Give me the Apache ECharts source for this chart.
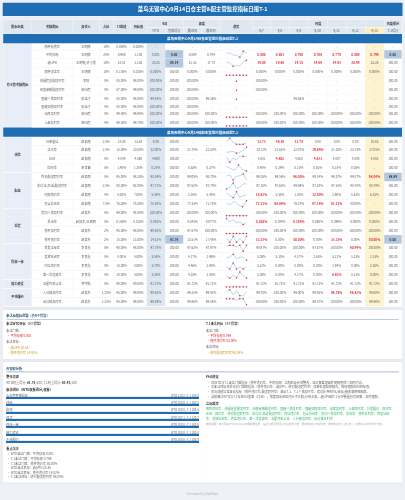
<!DOCTYPE html>
<html lang="zh"><head><meta charset="utf-8">
<style>html,body{margin:0;padding:0;background:#eff1f6}#c{width:405px;height:500px}#c canvas{filter:blur(.3px)}</style>
<script src="https://cdn.jsdelivr.net/npm/echarts@6/dist/echarts.min.js"></script>
</head><body><div id="c"></div>
<script>
// ---------- data ----------
const pageTitle='菜鸟无锡中心9月14日仓主管&配主管监控指标日报T-1';
const sectionTitles=['菜鸟无锡中心9月14日仓主管监控指标日报T-1','菜鸟无锡中心9月14日配主管监控指标日报T-1'];
const dayLabels=['9/7','9/8','9/9','9/10','9/11','9/12','9/13'];
const metricNames=['南杯收违率','平均存视','选UPH','南杯送达率','海量超支配送时率','闲鱼审核配送时率','固能人揽及时率','固能如揽及时率','出库及时率','上架及时率',
 '日单量达','达访率','DSR','回访率','昨日配送超时率','彩约达(承诺)配送时率','内部违约率','包含投诉率','超向人揽及时率','投诉率','揽件及时率','揽件违约率',
 '首发达标率','发放延迟率','内达违约率','第一次送波率','五星司机认证','入分抹及时率','出分抹及时率'];
const owners=['王明辉','王明辉','王明辉/许小美','王明辉','李琦','宋国超','张佳才','张佳才','宋国超','宋国超',
 '赵振南','赵振南','赵振南','宋世雷','赵振南','赵振南','赵振南','赵振南','赵振东','赵振东/王晓明','赵振东','赵振东',
 '李良鑫','李良鑫','李良鑫','李良鑫','齐宇航','赵振东','赵振东'];
const weights=['10%','25%','10%','10%','5%','5%','5%','5%','5%','5%','2.5%','2.5%','5%','5%','5%','2.5%','4%','7.5%','5%','5%','2%','2%','5%','5%','5%','5%','5%','1.25%','1.25%'];
const gates=['0.050%','0.980','18.51','0.150%','85.00%','87.00%','85.00%','85.00%','99.80%','99.50%','18.00','15.00%','4.840','1.40%','95.00%','88.00%','8.00%','76.30%','99.00%','0.350%','95.00%','15.00%','90.00%','8.00%','15.00%','10.00%','90.00%','95.00%','95.00%'];
const targets=['0.020%','1.150','21.30','0.010%','98.00%','99.00%','98.00%','98.00%','99.90%','99.70%','13.30','20.00%','4.860','1.35%','98.20%','92.00%','7.00%','78.30%','98.50%','0.150%','98.00%','13.00%','98.00%','5.00%','8.00%','5.00%','90.00%','99.00%','99.00%'];
const mtdValues=['-','0.801','20.35','0.000%','100.00%','100.00%','99.58%','100.00%','100.00%','100.00%','9.80','22.00%','4.900','0.28%','98.59%','97.71%','5.39%','78.50%','100.00%','0.053%','99.92%','14.82%','97.78%','3.58%','3.70%','3.38%','91.72%','99.92%','99.89%'];
const mtdScores=['-','0.00','86.14','100.00','100.00','100.00','100.00','100.00','100.00','100.00','100.00','100.00','100.00','100.00','100.00','100.00','100.00','100.00','100.00','100.00','100.00','83.78','100.00','100.00','100.00','100.00','100.00','100.00','100.00'];
const weekRecent=['-','0.804','21.53','0.000%','100.00%','100.00%','100.00%','100.00%','100.00%','100.00%','-','21.78%','-','0.63%','99.05%','97.62%','5.35%','77.33%','100.00%','0.043%','97.67%','13.51%','97.62%','4.17%','4.46%','4.23%','91.72%','99.25%','99.86%'];
const weekPrior=['-','0.794','17.78','0.000%','-','-','99.36%','-','100.00%','100.00%','-','22.50%','-','0.27%','98.70%','97.70%','5.45%','71.78%','100.00%','0.077%','100.00%','17.45%','97.97%','2.96%','2.95%','2.50%','91.72%','99.42%','99.88%'];
const dailyValues=[
 ['-','-','-','-','-','-','-'],
 ['0.800','0.801','0.790','0.788','0.779','0.808','0.799'],
 ['19.05','19.88','14.15','14.86','14.93','20.94','23.26'],
 ['0.000%','0.000%','0.000%','0.000%','0.000%','0.000%','0.000%'],
 ['100.00%','-','-','-','-','-','-'],
 ['100.00%','-','-','-','-','-','-'],
 ['-','-','99.36%','-','-','-','-'],
 ['-','-','-','-','-','-','-'],
 ['100.00%','100.00%','100.00%','100.00%','100.00%','100.00%','100.00%'],
 ['100.00%','100.00%','100.00%','100.00%','100.00%','100.00%','100.00%'],
 ['13.73','40.16','13.75','0.00','0.00','0.00','10.63'],
 ['20.72%','21.62%','22.07%','19.84%','21.02%','23.73%','27.05%'],
 ['4.881','4.802','4.863','4.833','4.887','4.888','4.882'],
 ['0.48%','0.29%','0.10%','0.62%','0.18%','0.03%','-'],
 ['99.26%','99.56%','98.00%','99.14%','99.37%','99.87%','98.04%'],
 ['97.10%','97.63%','99.09%','97.28%','97.61%','98.78%','98.79%'],
 ['10.83%','5.53%','1.85%','12.50%','2.90%','5.61%','6.82%'],
 ['72.31%','68.89%','79.24%','67.18%','63.11%','80.00%','-'],
 ['100.00%','100.00%','100.00%','100.00%','100.00%','100.00%','100.00%'],
 ['0.208%','0.104%','0.164%','0.060%','0.090%','0.000%','0.060%'],
 ['100.00%','100.00%','100.00%','100.00%','100.00%','100.00%','100.00%'],
 ['33.33%','0.00%','50.00%','0.00%','33.33%','0.00%','50.00%'],
 ['98.97%','100.00%','100.00%','97.37%','100.00%','90.64%','100.00%'],
 ['3.03%','3.13%','4.17%','2.63%','3.12%','3.23%','2.13%'],
 ['3.12%','0.00%','8.00%','0.00%','2.94%','0.00%','2.38%'],
 ['3.03%','0.00%','4.17%','0.00%','8.82%','3.21%','0.00%'],
 ['91.72%','91.72%','91.72%','91.72%','91.72%','91.72%','91.72%'],
 ['99.70%','100.00%','99.00%','99.85%','98.78%','98.82%','99.60%'],
 ['100.00%','100.00%','100.00%','99.87%','100.00%','100.00%','99.46%']];
const missedDays=[[],[0,1,2,3,4,5,6],[0,1,2,3,4,5],[],[],[],[],[],[],[],[0,1,2],[3],[1,3],[],[2,6],[],[0,3],[0,1,3,4],[],[0,2],[],[0,2,4,6],[5],[],[],[4],[],[4,5],[]];
const dayScores=['-','0.00','100.00','100.00','100.00','100.00','100.00','100.00','100.00','100.00','100.00','100.00','100.00','100.00','88.89','100.00','100.00','100.00','100.00','100.00','100.00','0.00','100.00','100.00','100.00','100.00','100.00','100.00','100.00'];
const categoryGroups=[['仓主管考核指标',0,10],['体验',10,14],['配送',14,18],['退货',18,22],['揽收一审',22,26],['能力建设',26,27],['干线履约',27,29]];
const blockNames=['仓主管考核指标','体验','配送','退货','揽收一审','能力建设','干线履约'];
const blockWTD=[110.2,100.0,100.0,107.1,100.0,100.0,100.0];
const blockT1=[150.0,100.0,100.5,120.2,100.0,100.0,100.0];
const focusItems=['WTD未达门槛：平均存视 0.801','T-1未达门槛：平均存视 0.799','T-1未达门槛：揽件违约率 50.00%','WTD未达目标：选UPH 20.35','WTD未达目标：揽件违约率 14.82%','T-1未达目标：绝对配送超时率 98.04%'];
const actionItems=['XXWTD与T-1未达门槛指标（揽件违约率、平均存视）立即启动专项整改，当日复盘根因并明确责任人和时间点。',
 '对未达目标项优化日门槛的指标（揽件违约率、选UPH、绝对配送超时率）加密日度监控频次，按周跟踪回归目标值。',
 '关注成绩异常波动指标（揽件违约率/配送超时率）波动T-1、T-1人揽及时率，建议补齐WMS/波动/接收和明细图表。',
 '当前窗口WTD与T-1存在0.8差距（口径），揽度高反弹区间分子之和/分母之和，选UPH和T-1分块慢量也有回落，及时跟踪。'];
const passLines=['南内同日率、海量定支配送时率、闲鱼审核配送时率、固能人揽及时率、固能如揽及时率、出库及时率、上架及时率、方差履约、回访率、',
 'DSR、回访率、绝对配送超时率、彩约达-高定配送时率、内达违约率、包含投诉率、超向人揽及时率、投诉率、揽件及时率、首发达标',
 '率、发放延迟率、内达违约率、第一次送波率、五星司机认证、入分抹及时率、出分抹及时率'];
const noteText='数据说明：本分析基于2026.09.14日前期数生成，指标分析及预估以学业报表为准（周日数对比7日的1天，周日数对比T-1比1天），如异值以WTD累计为准。';
const footerText='Generated by DataMate';

// ---------- layout ----------
const FONT='"Noto Sans CJK SC","Liberation Sans",sans-serif';
const BLUE='#1f6db3',RED='#e3232d',GOLD='#c9981f',GREEN='#35b56f',TXT='#666',DARK='#333';
const colX=[3.3,31.7,72.7,99.3,113.3,130,146.7,165,183.3,201.7,220.3,252.3,270.7,289.3,308.3,327.3,346,365,384,401.7];
const sec1Edges=[43.3,50,58.7,67.7,76.7,85.7,94.7,103.7,109.7,118.7,127.3];
const sec2Top=136.9,sec2Row=8.91;
const rowTop=i=>i<10?sec1Edges[i]:sec2Top+(i-10)*sec2Row;
const rowBot=i=>i<10?sec1Edges[i+1]:sec2Top+(i-9)*sec2Row;
const g=[];
const R=(x,y,w,h,fill,extra)=>g.push({type:'rect',silent:true,z:1,shape:{x,y,width:w,height:h,r:(extra&&extra.r)||0},style:Object.assign({fill},extra&&extra.style)});
const T=(x,y,text,o={})=>g.push({type:'text',silent:true,z:5,x,y,style:{text,fill:o.c||TXT,font:(o.b?'bold ':'')+(o.s||3.1)+'px '+FONT,textAlign:o.a||'center',textVerticalAlign:'middle'}});

// panels
R(2.7,2.7,399.8,13.3,BLUE);
T(202.6,9.4,pageTitle,{c:'#fff',b:1,s:5.4});
const shadow={shadowBlur:3,shadowColor:'rgba(60,80,110,.12)'};
R(2.7,19.5,399.8,287.5,'#fff',{r:1,style:shadow});
R(2.7,310,399.8,49,'#fff',{r:1,style:shadow});
R(2.7,362,399.8,120.5,'#fff',{r:1,style:shadow});

// column tints
const c=j=>colX[j],cw=j=>colX[j+1]-colX[j];
R(c(0),20,cw(0),107.3,'#e8eef7');R(c(0),136.9,cw(0),169.4,'#e8eef7');
R(c(6),43.3,cw(6),84,'#dce6f1');R(c(6),136.9,cw(6),169.4,'#dce6f1');
R(c(17),43.3,cw(17),84,'#fdf3cf');R(c(17),136.9,cw(17),169.4,'#fdf3cf');

// header
R(c(0),20,colX[19]-c(0),13.5,'#dfe7f1');
const H1=27.3,H0=20,H2=33.5,hc1=(H0+H1)/2,hc2=(H1+H2)/2,hcm=(H0+H2)/2;
['指标分类','考核指标','责任人','占比','门槛值','目标值'].forEach((t,j)=>T((c(j)+c(j+1))/2,hcm,t,{b:1,c:DARK}));
T((c(6)+c(8))/2,hc1,'9月',{b:1,c:DARK});
T((c(8)+c(10))/2,hc1,'周度',{b:1,c:DARK});
T((c(10)+c(11))/2,hcm,'趋势',{b:1,c:DARK});
T((c(11)+c(18))/2,hc1,'日度',{b:1,c:DARK});
T((c(18)+c(19))/2,hc1,'日度得分',{b:1,c:DARK});
['MTD','完成得分','最近周','最近周'].forEach((t,k)=>T((c(6+k)+c(7+k))/2,hc2,t));
R(c(17),H1,cw(17),H2-H1,'#fdeebb');
dayLabels.forEach((t,k)=>T((c(11+k)+c(12+k))/2,hc2,t));
T((c(18)+c(19))/2,hc2,'T-1得分');
// header rules
[[c(6),c(10),H1],[c(11),c(19),H1]].forEach(([a,b,y])=>R(a,y,b-a,.35,'#fff'));
for(let j=1;j<19;j++)R(c(j),H0,.35,H2-H0,'#fff');

// section bars
[[34,43.2,0],[127.6,136.8,1]].forEach(([a,b,k])=>{
  R(3.2,a,398.8,b-a,BLUE);
  T(202.6,(a+b)/2,sectionTitles[k],{c:'#fff',b:1,s:3.5});
});

// rows
const sparkGrids=[],sparkX=[],sparkY=[],sparkS=[];
metricNames.forEach((name,i)=>{
  const a=rowTop(i),b=rowBot(i),m=(a+b)/2;
  R(c(1),b-.2,colX[19]-c(1),.35,'#edf0f4');
  if(i>=10&&i<29)R(c(0),b-.2,cw(0),.35,'#f4f7fb');
  T((c(1)+c(2))/2,m,name);T((c(2)+c(3))/2,m,owners[i]);
  T((c(3)+c(4))/2,m,weights[i]);T((c(4)+c(5))/2,m,gates[i]);T((c(5)+c(6))/2,m,targets[i]);
  T((c(6)+c(7))/2,m,mtdValues[i]);
  const hi=mtdScores[i]!=='100.00'&&mtdScores[i]!=='-';
  if(hi)R(c(7),a+.2,cw(7),b-a-.4,'#b3c7e1');
  T((c(7)+c(8))/2,m,mtdScores[i],{b:hi,c:hi?DARK:TXT});
  T((c(8)+c(9))/2,m,weekRecent[i]);T((c(9)+c(10))/2,m,weekPrior[i]);
  dailyValues[i].forEach((v,k)=>{
    const miss=missedDays[i].includes(k);
    T((c(11+k)+c(12+k))/2,m,v,{b:miss,c:miss?RED:TXT});
  });
  const hiD=dayScores[i]!=='100.00'&&dayScores[i]!=='-';
  if(hiD)R(c(18),a+.2,cw(18),b-a-.4,'#b3c7e1');
  T((c(18)+c(19))/2,m,dayScores[i],{b:hiD,c:hiD?DARK:TXT});
  // trend
  const vals=dailyValues[i].map(parseFloat).filter(v=>!isNaN(v));
  if(!vals.length){T((c(10)+c(11))/2,m,'-');return;}
  const mn=Math.min(...vals),mx=Math.max(...vals),flat=mn===mx,one=vals.length===1;
  const idx=sparkGrids.length;
  sparkGrids.push({left:226.5,width:20,top:m-3,height:6,containLabel:false});
  sparkX.push({type:'category',gridIndex:idx,show:false,boundaryGap:one,data:vals.map((_,k)=>k)});
  sparkY.push({type:'value',gridIndex:idx,show:false,min:one?mn-1:mn,max:one?mn+1:(flat?mn+1:mx)});
  sparkS.push({type:'line',xAxisIndex:idx,yAxisIndex:idx,silent:true,z:6,animation:false,
    lineStyle:{color:'#9cc4e8',width:.7},symbolSize:1.5,showSymbol:true,itemStyle:{color:RED},
    data:vals.map(v=>({value:v,symbol:(v===mn||v===mx)?'circle':'none'}))});
});
categoryGroups.forEach(([t,s,e])=>{
  const y0=rowTop(s),y1=rowBot(e-1);
  T((c(0)+c(1))/2,(y0+y1)/2,t,{b:1,c:DARK});
  if(s>=10)R(c(0),y1-.3,cw(0),.6,'#fff');
});
for(let j=1;j<19;j++){R(c(j),43.3,.3,84,'#f3f5f8');R(c(j),136.9,.3,169.4,'#f3f5f8');}

// warning panel
T(6.3,315.7,'未达标指标预警（共6个异常）',{a:'left',b:1,c:'#26527f',s:3.2});
R(6.3,319.2,392.5,.8,'#a9bdd4');
R(202,322,.3,33,'#eef0f4');
T(6.3,324,'未达WTD目标（3个异常）',{a:'left',b:1,c:DARK,s:3.1});
T(206,324,'T-1未达目标（3个异常）',{a:'left',b:1,c:DARK,s:3.1});
const bullet=(x,y,t,col,tx)=>{T(x,y,'•',{a:'left',c:col,s:2.8});T(tx||x+3.2,y,t,{a:'left',c:col,s:3.1});};
T(6.3,330.7,'未达门槛:',{a:'left'});bullet(7.3,336.3,'平均存视 0.801',RED);
T(6.3,342.3,'未达目标:',{a:'left'});bullet(7.3,348,'选UPH 20.35',GOLD);bullet(7.3,352.7,'揽件违约率 14.82%',GOLD);
T(206,330.7,'未达门槛:',{a:'left'});bullet(207,336.3,'平均存视 0.799',RED);bullet(207,341,'揽件违约率 50.00%',RED);
T(206,347,'未达目标:',{a:'left'});bullet(207,352.7,'绝对配送超时率 98.04%',GOLD);

// AI panel
T(6.3,368.3,'AI智能分析',{a:'left',b:1,c:'#26527f',s:3.2});
R(6.3,371.2,392.5,1.3,'#b9c9da');
R(202,373.5,.3,106,'#eef0f4');
T(6.3,377,'整体表现',{a:'left',b:1,c:DARK,s:3.2});
g.push({type:'text',silent:true,z:5,x:6.3,y:382.7,style:{text:'WTD权重得分: {b|81.76}/100, T-1权重得分: {b|85.45}/100',fill:TXT,font:'3.1px '+FONT,textVerticalAlign:'middle',rich:{b:{font:'bold 3.2px '+FONT,fill:DARK}}}});
T(6.3,389.3,'板块得分（WTD权重得分/权重）',{a:'left',b:1,c:DARK,s:3.2});
const blockY=[395.7,403,410.3,417.7,425,432.7,440];
const barTop=[397,404,412,419,426,434,441];
const blockGrids=[],blockXA=[],blockYA=[],blockS=[];
blockNames.forEach((n,i)=>{
  T(6.3,blockY[i],n,{a:'left'});
  T(198.7,blockY[i],'WTD '+blockWTD[i].toFixed(1)+' / T-1 '+blockT1[i].toFixed(1),{a:'right',s:2.8});
  R(6.3,barTop[i]-.7,192.4,.7,'#d6e4f2');
  const idx=sparkGrids.length+i;
  blockGrids.push({left:6,width:193,top:barTop[i],height:2});
  blockXA.push({type:'value',gridIndex:idx,show:false,min:0,max:100});
  blockYA.push({type:'category',gridIndex:idx,show:false,data:[n]});
  blockS.push({type:'bar',xAxisIndex:idx,yAxisIndex:idx,silent:true,animation:false,z:6,barWidth:2,
    itemStyle:{color:BLUE},data:[blockWTD[i]]});
});
T(6.3,448.3,'重点关注',{a:'left',b:1,c:DARK,s:3.2});
[454.3,459,463.7,468.3,472.7,477.3].forEach((y,i)=>bullet(7.3,y,focusItems[i],TXT,10.7));
T(206,377,'行动建议',{a:'left',b:1,c:DARK,s:3.2});
[382.7,387.3,392,396.7].forEach((y,i)=>bullet(207,y,actionItems[i],TXT,211));
T(206,403.3,'达标项次',{a:'left',b:1,c:DARK,s:3.2});
[409.3,414,418.7].forEach((y,i)=>T(206,y,passLines[i],{a:'left',c:GREEN,s:3.1}));
T(206,424.3,noteText,{a:'left',c:'#aaa',s:2.6});
T(202.5,494,footerText,{c:'#b0b4ba',s:2.9});

const chart=echarts.init(document.getElementById('c'),null,{renderer:'canvas'});
chart.setOption({
  animation:false,backgroundColor:'#eff1f6',
  grid:sparkGrids.concat(blockGrids),xAxis:sparkX.concat(blockXA),yAxis:sparkY.concat(blockYA),
  series:sparkS.concat(blockS),graphic:{elements:g}
});
</script></body></html>
